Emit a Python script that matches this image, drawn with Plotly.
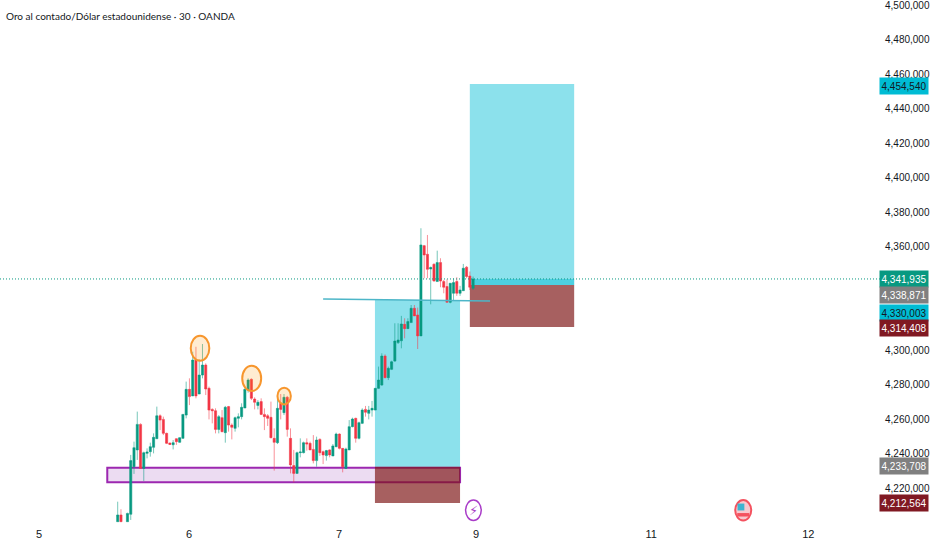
import plotly.graph_objects as go

title = "Oro al contado/Dólar estadounidense · 30 · OANDA"

# 30 min candles (index 2 has no candle)
opens = [4200.5, 4204.4, None, 4200.5, 4204.8, 4232.4, 4242.1, 4256.9, 4231.4, 4240.1,
         4241.1, 4243.6, 4248.6, 4261.9, 4259.8, 4251.7, 4246.1, 4245.1, 4248.6, 4246.5,
         4248.8, 4262.3, 4277.2, 4273.4, 4294.2, 4274.5, 4285.5, 4291.3, 4277.8, 4265.6,
         4264.8, 4254.0, 4260.8, 4252.1, 4267.2, 4256.5, 4254.6, 4260.4, 4261.4, 4266.4,
         4276.8, 4283.0, 4271.6, 4267.9, 4270.1, 4262.7, 4261.9, 4261.0, 4248.8, 4246.3,
         4269.1, 4263.7, 4272.6, 4248.8, 4233.0, 4228.5, 4240.5, 4240.5, 4246.3, 4245.9,
         4242.4, 4235.9, 4248.2, 4241.1, 4238.8, 4242.1, 4238.6, 4244.0, 4251.3, 4243.0,
         4231.4, 4242.1, 4255.6, 4260.4, 4248.8, 4257.5, 4265.6, 4263.3, 4265.2, 4265.2,
         4277.8, 4279.7, 4296.5, 4284.0, 4288.8, 4293.6, 4304.3, 4305.4, 4314.9, 4312.4,
         4315.9, 4324.2, 4320.3, 4308.2, 4360.5, 4355.5, 4347.0, 4349.7, 4339.7, 4350.7,
         4339.7, 4336.8, 4327.7, 4332.9, 4339.7, 4332.9, 4334.4, 4348.0, 4342.9, 4335.8]
highs = [4212.1, 4207.7, None, 4205.7, 4239.2, 4246.9, 4264.3, 4257.5, 4241.1, 4243.0,
         4246.3, 4251.7, 4267.2, 4262.7, 4261.4, 4252.1, 4246.3, 4247.8, 4248.8, 4249.4,
         4262.9, 4281.7, 4283.6, 4299.0, 4301.9, 4294.6, 4303.5, 4292.3, 4278.8, 4266.2,
         4266.2, 4262.3, 4265.2, 4267.6, 4267.6, 4257.5, 4261.4, 4263.3, 4269.1, 4277.8,
         4283.6, 4283.6, 4272.6, 4271.0, 4272.0, 4266.2, 4262.9, 4270.1, 4254.6, 4273.4,
         4274.5, 4274.5, 4273.4, 4254.6, 4242.1, 4241.1, 4248.8, 4246.9, 4248.8, 4246.9,
         4250.7, 4249.8, 4248.8, 4241.7, 4242.1, 4242.4, 4245.5, 4252.1, 4251.7, 4243.0,
         4243.4, 4259.4, 4260.8, 4260.8, 4258.5, 4266.2, 4267.6, 4267.6, 4270.5, 4277.8,
         4290.4, 4298.1, 4297.5, 4290.4, 4293.8, 4315.5, 4315.5, 4319.8, 4318.4, 4318.4,
         4326.1, 4326.1, 4324.6, 4370.6, 4360.9, 4366.7, 4348.4, 4350.3, 4357.6, 4353.2,
         4340.6, 4341.0, 4338.7, 4341.6, 4342.2, 4337.2, 4349.9, 4348.7, 4345.5, 4342.6]
lows = [4200.5, 4200.5, None, 4200.5, 4201.5, 4228.2, 4236.3, 4231.4, 4224.1, 4237.2,
        4238.2, 4240.1, 4248.6, 4253.6, 4250.7, 4245.5, 4245.0, 4242.4, 4245.0, 4246.3,
        4248.6, 4260.4, 4268.1, 4273.4, 4272.0, 4274.5, 4283.6, 4273.9, 4259.8, 4257.5,
        4251.7, 4251.7, 4252.3, 4246.3, 4252.7, 4248.2, 4252.7, 4255.2, 4259.8, 4266.4,
        4275.3, 4271.0, 4265.6, 4265.6, 4262.3, 4253.6, 4256.0, 4248.8, 4230.1, 4245.5,
        4259.8, 4262.3, 4249.8, 4228.5, 4223.3, 4228.5, 4237.8, 4240.1, 4241.7, 4242.1,
        4234.3, 4232.4, 4238.6, 4233.9, 4235.9, 4237.8, 4238.6, 4243.6, 4242.4, 4229.1,
        4231.0, 4242.1, 4255.2, 4246.3, 4248.2, 4257.1, 4261.4, 4259.8, 4261.4, 4265.2,
        4277.4, 4279.3, 4283.6, 4282.6, 4288.4, 4293.2, 4303.5, 4301.0, 4306.8, 4312.4,
        4315.9, 4319.8, 4300.6, 4308.2, 4341.6, 4341.6, 4326.5, 4339.7, 4339.7, 4336.4,
        4332.9, 4327.5, 4327.1, 4329.0, 4331.4, 4331.4, 4334.3, 4341.6, 4334.8, 4334.8]
closes = [4204.4, 4200.5, None, 4205.3, 4235.9, 4243.4, 4256.9, 4231.4, 4240.5, 4240.9,
          4244.0, 4249.4, 4261.9, 4259.4, 4251.7, 4245.9, 4245.3, 4246.3, 4246.9, 4249.2,
          4262.7, 4277.2, 4273.0, 4294.2, 4273.4, 4285.5, 4291.3, 4277.4, 4265.2, 4264.8,
          4254.0, 4261.4, 4252.7, 4266.8, 4256.5, 4255.2, 4260.8, 4261.4, 4266.8, 4277.2,
          4282.6, 4272.0, 4269.7, 4269.7, 4262.7, 4261.4, 4260.4, 4249.2, 4246.5, 4266.2,
          4265.6, 4272.6, 4254.0, 4233.4, 4228.5, 4240.5, 4240.9, 4246.3, 4245.5, 4242.1,
          4235.9, 4247.8, 4240.5, 4239.2, 4241.7, 4239.2, 4244.4, 4251.3, 4243.0, 4232.4,
          4242.6, 4255.6, 4260.0, 4248.8, 4257.9, 4265.2, 4263.9, 4265.2, 4266.2, 4277.8,
          4282.6, 4296.5, 4284.0, 4289.4, 4293.2, 4305.2, 4305.8, 4315.1, 4312.4, 4316.5,
          4324.2, 4319.8, 4308.2, 4360.9, 4355.1, 4346.8, 4347.8, 4340.0, 4350.7, 4340.0,
          4336.4, 4327.7, 4338.7, 4339.1, 4332.9, 4334.8, 4347.4, 4342.6, 4336.4, 4341.2]
bars = list(range(len(opens)))

day_ticks = [-24.1, 21.9, 67.9, 109.9, 163.6, 211.8]
day_labels = ["5", "6", "7", "9", "11", "12"]
# 4,320 and 4,340 sit behind the price tags, so they are left out
price_ticks = [4220, 4240, 4260, 4280, 4300, 4360, 4380, 4400, 4420, 4440, 4460, 4480, 4500]
price_labels = [f"{p:,},000" for p in price_ticks]

# price tags on the right
tag_texts = ["4,454,540", "4,341,935", "4,338,871", "4,330,003", "4,314,408", "4,233,708", "4,212,564"]
tag_levels = [4453.0, 4341.2, 4331.9, 4321.5, 4312.8, 4233.0, 4211.6]
tag_colors = ["#00bcd4", "#089981", "#808080", "#00bcd4", "#801922", "#808080", "#801922"]
tag_fonts = ["#131722", "white", "white", "#131722", "white", "white", "white"]

GREEN = "#089981"
RED = "#f23645"
BLUE = "rgba(0,188,212,0.45)"
BROWN = "rgba(125,20,20,0.68)"
FONT = "Liberation Sans"

fig = go.Figure(go.Candlestick(
    x=bars, open=opens, high=highs, low=lows, close=closes,
    whiskerwidth=0,
    increasing=dict(line=dict(color="rgba(8,153,129,0.55)", width=1), fillcolor=GREEN),
    decreasing=dict(line=dict(color="rgba(242,54,69,0.55)", width=1), fillcolor=RED),
    hoverinfo="skip",
))

# trend line and last price line
fig.add_trace(go.Scatter(x=[63, 114.2], y=[4329.6, 4328.4], mode="lines",
                         line=dict(color="#4db6c8", width=1.5), hoverinfo="skip"))
fig.add_trace(go.Scatter(x=[-36.1, 233.8], y=[4341.2, 4341.2], mode="lines",
                         line=dict(color=GREEN, width=1, dash="1px,2px"), hoverinfo="skip"))


def box(x0, x1, y0, y1, fill, line=None, width=0, kind="rect", layer="below"):
    fig.add_shape(type=kind, x0=x0, x1=x1, y0=y0, y1=y1, fillcolor=fill, layer=layer,
                  line=dict(color=line or "rgba(0,0,0,0)", width=width))


# support zone
box(-3.2, 105, 4223.3, 4231.8, "#ecdcf2", "#9c27b0", 2)
# first position
box(78.9, 105, 4232.4, 4329.0, BLUE)
box(78.9, 105, 4211.3, 4232.4, BROWN)
# second position
box(108, 140, 4337.7, 4454.2, BLUE)
box(108, 140, 4337.7, 4341.2, "rgba(0,188,212,0.45)")
box(108, 140, 4313.4, 4337.7, BROWN)

# circles on the three tops
orange = "rgba(255,152,0,0.18)"
box(22.4, 28.1, 4293.8, 4308.3, orange, "#f7962d", 2, "circle", "above")
box(38.2, 44.0, 4276.2, 4290.9, orange, "#f7962d", 2, "circle", "above")
box(49.0, 53.1, 4268.5, 4278.2, orange, "#f7962d", 2, "circle", "above")

# event icons under the candles
box(106.7, 111.5, 4201.2, 4213.0, "white", "#a93cc8", 1.5, "circle", "above")
box(189.4, 194.3, 4201.2, 4213.0, "#f9c9cf", "#f4525f", 2, "circle", "above")
box(190.1, 192.2, 4207.0, 4211.0, "#3fb4d0", kind="rect", layer="above")
box(190.0, 193.7, 4203.5, 4205.5, "#f4525f", kind="rect", layer="above")

fig.add_annotation(x=109.1, y=4207.1, text="⚡", showarrow=False,
                   font=dict(size=13, color="#a93cc8", family="DejaVu Sans"))
fig.add_annotation(xref="paper", yref="paper", x=4 / 880, y=1 - 16 / 526, text=title,
                   showarrow=False, xanchor="left", yanchor="middle",
                   font=dict(size=10, color="#131722", family="Lato"))

for text, level, color, font in zip(tag_texts, tag_levels, tag_colors, tag_fonts):
    fig.add_annotation(xref="paper", x=1, xanchor="left", xshift=-1, y=level, text=text,
                       showarrow=False, bgcolor=color, width=48, height=16, borderpad=0,
                       font=dict(size=10, color=font, family=FONT))

fig.update_layout(
    width=932, height=550,
    margin=dict(l=0, r=52, t=0, b=24),
    paper_bgcolor="white", plot_bgcolor="white",
    showlegend=False,
    boxgap=0.05,
    xaxis=dict(range=[-36.1, 233.8], rangeslider=dict(visible=False), showgrid=False,
               zeroline=False, tickmode="array", tickvals=day_ticks, ticktext=day_labels,
               ticks="", tickfont=dict(size=11, color="#131722", family=FONT)),
    yaxis=dict(range=[4198.0, 4502.9], side="right", showgrid=False, zeroline=False,
               tickmode="array", tickvals=price_ticks, ticktext=price_labels,
               ticks="outside", ticklen=2, tickcolor="white", ticklabeloverflow="allow",
               tickfont=dict(size=10, color="#131722", family=FONT)),
)

fig.write_html("out.html", config={"displayModeBar": False},
               post_script="document.body.style.margin = '0';")
